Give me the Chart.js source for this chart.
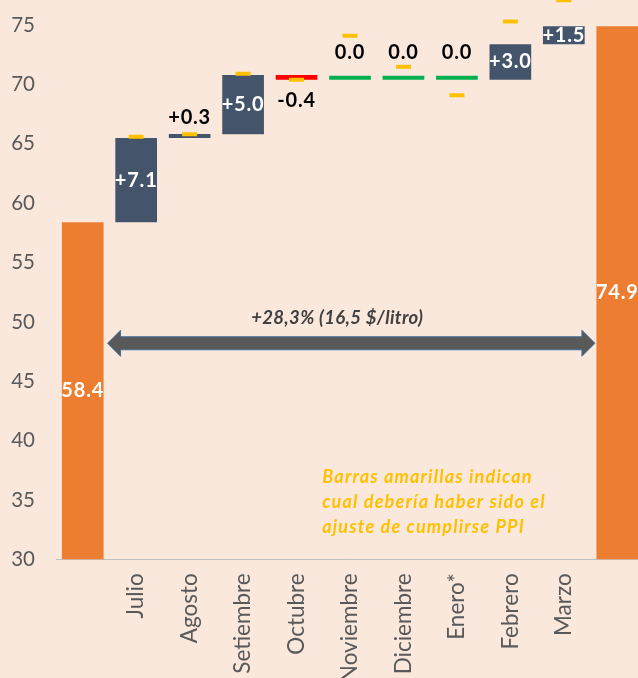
<!DOCTYPE html>
<html>
<head>
<meta charset="utf-8">
<script src="https://cdn.jsdelivr.net/npm/chart.js@4.4.0/dist/chart.umd.min.js"></script>
<style>
  html, body { margin: 0; padding: 0; background: #FBE8DD; overflow: hidden; }
</style>
</head>
<body>
<canvas id="grafico" width="644" height="678"></canvas>
<script>
// precio por litro: valor inicial, variaciones mensuales y valor final
var meses = ['', 'Julio', 'Agosto', 'Setiembre', 'Octubre', 'Noviembre', 'Diciembre', 'Enero*', 'Febrero', 'Marzo', ''];
var valorInicial = 58.4;
var variaciones = [7.1, 0.3, 5.0, -0.4, 0.0, 0.0, 0.0, 3.0, 1.5];
var valorFinal = 74.9;
// ajuste que correspondia segun PPI (marcas amarillas)
var ajustePPI = [null, 65.6, 65.8, 70.9, 70.4, 74.1, 71.5, 69.1, 75.3, 77.1, null];
var ticksY = [30, 35, 40, 45, 50, 55, 60, 65, 70, 75];
var textoFlecha = '+28,3% (16,5 $/litro)';
var notaPPI = ['Barras amarillas indican', 'cual debería haber sido el', 'ajuste de cumplirse PPI'];

var NARANJA = '#ED7D31', AZUL = '#44546A', ROJO = '#FF0000', VERDE = '#00B050', AMARILLO = '#FFC000';

// barras flotantes de la cascada
var barras = [[0, valorInicial]];
var valores = [valorInicial];
var acumulado = valorInicial;
variaciones.forEach(function (v) {
    var prox = Math.round((acumulado + v) * 10) / 10;
    barras.push([acumulado, prox]);
    valores.push(v);
    acumulado = prox;
});
barras.push([0, valorFinal]);
valores.push(valorFinal);

var colores = valores.map(function (v, i) {
    if (i === 0 || i === valores.length - 1) return NARANJA;
    if (v > 0) return AZUL;
    if (v < 0) return ROJO;
    return VERDE;
});

function textoValor(v, i) {
    if (i === 0 || i === valores.length - 1) return v.toFixed(1);
    return (v > 0 ? '+' : '') + v.toFixed(1);
}

var fondo = {
    id: 'fondo',
    beforeDraw: function (chart) {
        var ctx = chart.ctx;
        ctx.save();
        ctx.fillStyle = '#FBE8DD';
        ctx.fillRect(0, 0, chart.width, chart.height);
        ctx.restore();
    }
};

var etiquetas = {
    id: 'etiquetas',
    afterDatasetsDraw: function (chart) {
        var ctx = chart.ctx, area = chart.chartArea;
        var meta = chart.getDatasetMeta(0);
        ctx.save();
        ctx.font = 'bold 20px Lato';
        ctx.letterSpacing = '0.8px';
        ctx.textAlign = 'center';
        ctx.textBaseline = 'middle';
        meta.data.forEach(function (bar, i) {
            var arriba = Math.min(bar.y, bar.base);
            var abajo = Math.min(Math.max(bar.y, bar.base), area.bottom);
            var alto = abajo - arriba;
            var v = valores[i];
            var y;
            if (alto > 12) {
                ctx.fillStyle = '#FFFFFF';
                y = (arriba + abajo) / 2;
            } else {
                ctx.fillStyle = '#000000';
                if (v === 0) y = (arriba + abajo) / 2 - 25;
                else if (v > 0) y = arriba - 16;
                else y = abajo + 21;
            }
            ctx.fillText(textoValor(v, i), bar.x, y);
        });
        ctx.restore();
    }
};

var flecha = {
    id: 'flecha',
    afterDraw: function (chart, args, opts) {
        var ctx = chart.ctx;
        var meta = chart.getDatasetMeta(0);
        var primera = meta.data[0], ultima = meta.data[meta.data.length - 1];
        var x1 = primera.x + primera.width / 2 + 4;
        var x2 = ultima.x - ultima.width / 2 - 1.5;
        var y = chart.scales.y.getPixelForValue(opts.nivel);
        var g = 6.5, h = 13, l = 13;

        ctx.save();
        ctx.beginPath();
        ctx.moveTo(x1, y);
        ctx.lineTo(x1 + l, y - h);
        ctx.lineTo(x1 + l, y - g);
        ctx.lineTo(x2 - l, y - g);
        ctx.lineTo(x2 - l, y - h);
        ctx.lineTo(x2, y);
        ctx.lineTo(x2 - l, y + h);
        ctx.lineTo(x2 - l, y + g);
        ctx.lineTo(x1 + l, y + g);
        ctx.lineTo(x1 + l, y + h);
        ctx.closePath();
        ctx.fillStyle = '#595959';
        ctx.fill();
        ctx.lineWidth = 1;
        ctx.strokeStyle = '#41719C';
        ctx.stroke();

        ctx.font = 'italic bold 18.5px Lato';
        ctx.letterSpacing = '0.35px';
        ctx.fillStyle = '#404040';
        ctx.textAlign = 'center';
        ctx.textBaseline = 'middle';
        ctx.fillText(textoFlecha, (x1 + x2) / 2 - 14, chart.scales.y.getPixelForValue(opts.nivelTexto));

        // nota sobre las marcas amarillas
        ctx.font = 'italic bold 18px Lato';
        ctx.letterSpacing = '1.2px';
        ctx.fillStyle = AMARILLO;
        ctx.textAlign = 'left';
        var xn = chart.scales.x.getPixelForValue(opts.notaIndice);
        var yn = chart.scales.y.getPixelForValue(opts.notaNivel);
        notaPPI.forEach(function (linea, i) {
            ctx.fillText(linea, xn, yn + i * 25);
        });
        ctx.restore();
    }
};

Chart.defaults.font.family = 'Lato';

var grafico = new Chart(document.getElementById('grafico'), {
    type: 'bar',
    data: {
        labels: meses,
        datasets: [{
            label: 'Precio',
            data: barras,
            backgroundColor: colores,
            borderWidth: 0,
            categoryPercentage: 1,
            barPercentage: 0.78,
            minBarLength: 4,
            order: 1
        },
        {
            type: 'line',
            label: 'Ajuste PPI',
            data: ajustePPI,
            showLine: false,
            pointStyle: 'line',
            pointRadius: 7.5,
            pointBorderWidth: 4,
            borderColor: AMARILLO,
            backgroundColor: AMARILLO,
            order: 0
        }]
    },
    options: {
        responsive: false,
        animation: false,
        layout: { padding: 0, autoPadding: false },
        plugins: {
            legend: { display: false },
            tooltip: { enabled: false },
            flecha: { nivel: 48.2, nivelTexto: 50.3, notaIndice: 4.48, notaNivel: 36.9 }
        },
        scales: {
            x: {
                grid: { display: false },
                border: { display: true, color: '#BFBFBF', width: 1 },
                ticks: {
                    autoSkip: false,
                    maxRotation: 90,
                    minRotation: 90,
                    padding: 6,
                    color: '#595959',
                    font: { size: 22.5 }
                },
                afterFit: function (s) {
                    s.height = 118.7;
                    s.paddingLeft = 0; s.paddingRight = 0;
                }
            },
            y: {
                min: 30,
                max: 77.12,
                grid: { display: false },
                border: { display: false },
                ticks: {
                    padding: 13,
                    color: '#595959',
                    font: { size: 20.5 }
                },
                afterBuildTicks: function (s) {
                    s.ticks = ticksY.map(function (v) { return { value: v }; });
                },
                afterFit: function (s) {
                    s.width = 56;
                    s.paddingTop = 0; s.paddingBottom = 0;
                }
            }
        }
    },
    plugins: [fondo, etiquetas, flecha]
});
</script>
</body>
</html>
